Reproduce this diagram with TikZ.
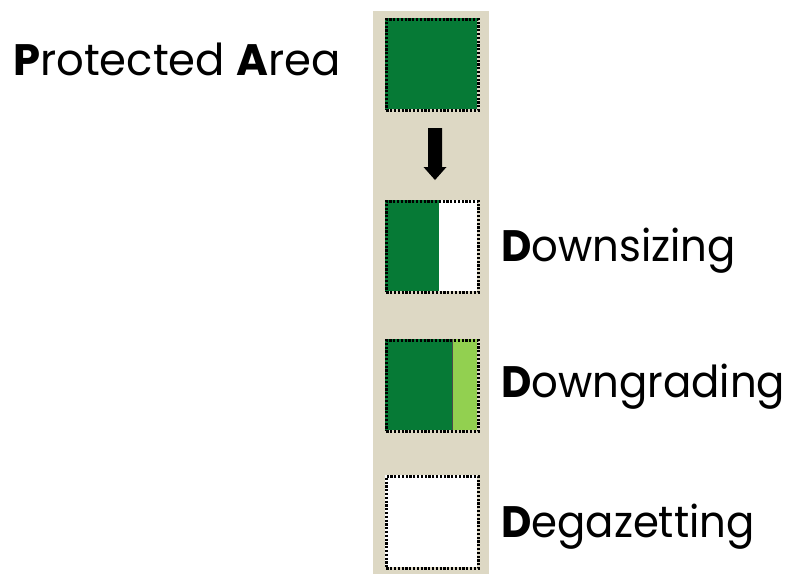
\documentclass[tikz,border=0pt]{standalone}
\usepackage{fontspec}
\setmainfont{Poppins}
\definecolor{panel}{RGB}{221,216,196}
\definecolor{darkgreen}{RGB}{6,122,54}
\definecolor{lightgreen}{RGB}{146,208,80}
\newcommand{\narrowtext}[2][0.95]{\scalebox{#1}[1]{#2}}
\tikzset{
  dotframe/.style={draw=black, line width=2.6pt, dash pattern=on 2.2pt off 1.6pt,
    inner sep=0pt, anchor=north west},
  label/.style={anchor=base west, inner sep=0pt, font=\fontsize{44}{44}\selectfont},
}
\begin{document}
\begin{tikzpicture}[x=1pt, y=-1pt]
  \useasboundingbox (0,0) rectangle (788,574);
  % background column
  \fill[panel] (373,11) rectangle (489,574);

  % protected area
  \fill[darkgreen] (385,18) rectangle (477,109);
  \node[dotframe, minimum width=92pt, minimum height=91pt] (pa) at (385,18) {};

  % arrow
  \fill[black] (428,128) -- (442,128) -- (442,167) -- (446.5,167) -- (435,180) -- (423.5,167) -- (428,167) -- cycle;

  % downsizing
  \fill[darkgreen] (385,200) rectangle (439,291);
  \fill[white] (439,200) rectangle (477,291);
  \node[dotframe, minimum width=92pt, minimum height=91pt] (ds) at (385,200) {};

  % downgrading
  \fill[darkgreen] (385,339) rectangle (452,430);
  \fill[lightgreen] (452,339) rectangle (477,430);
  \draw[black!70, line width=1pt] (452,339) -- (452,430);
  \node[dotframe, minimum width=92pt, minimum height=91pt] (dg) at (385,339) {};

  % degazetting
  \fill[white] (385,475) rectangle (477,567);
  \node[dotframe, minimum width=92pt, minimum height=92pt] (dz) at (385,475) {};

  % labels
  \node[label] (tpa) at (13,75) {\narrowtext[0.985]{\textbf{P}rotected \textbf{A}rea}};
  \node[label] (tds) at (501,261) {\narrowtext{\textbf{D}ownsizing}};
  \node[label] (tdg) at (501,397) {\narrowtext{\textbf{D}owngrading}};
  \node[label] (tdz) at (501,537) {\narrowtext{\textbf{D}egazetting}};
\end{tikzpicture}
\end{document}
